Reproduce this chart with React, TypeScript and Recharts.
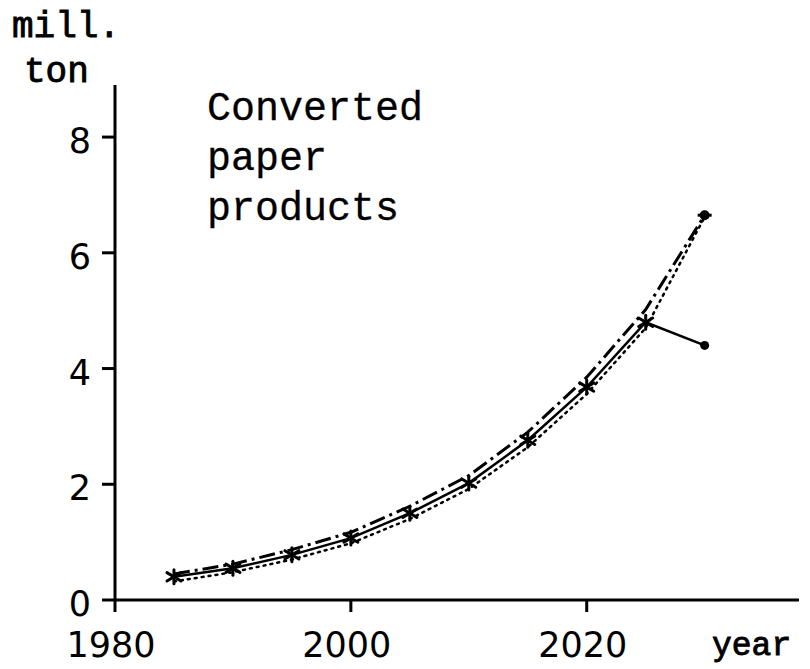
import React from 'react';
import { LineChart, Line, XAxis, YAxis } from 'recharts';

// ─── Data ─────────────────────────────────────────────────────────────────────

const years = [1985, 1990, 1995, 2000, 2005, 2010, 2015, 2020, 2025, 2030];
const solidSeries = [0.4, 0.55, 0.78, 1.07, 1.5, 2.02, 2.76, 3.68, 4.8, 4.4];
const dashDotSeries = [0.45, 0.62, 0.87, 1.17, 1.62, 2.15, 2.9, 3.85, 5.02, 6.65];
const dottedSeries = [0.32, 0.48, 0.7, 0.98, 1.4, 1.92, 2.64, 3.56, 4.7, 6.62];

const yTicks = [0, 2, 4, 6, 8];
const xTicks = [1980, 2000, 2020];

const rows = years.map((year, i) => ({
  year,
  solid: solidSeries[i],
  dashDot: dashDotSeries[i],
  dotted: dottedSeries[i],
}));

const INK = '#000';
const NUM_FONT = '"DejaVu Sans", sans-serif';
const TXT_FONT = '"Liberation Mono", "DejaVu Sans Mono", monospace';

// ─── Markers ──────────────────────────────────────────────────────────────────

function StarDot(props: any) {
  const { cx, cy, index } = props;
  if (cx == null || cy == null) return null;
  if (index === years.length - 1) {
    return <circle key={`s${index}`} cx={cx} cy={cy} r={4.5} fill={INK} />;
  }
  const r = 7;
  return (
    <g key={`s${index}`} stroke={INK} strokeWidth={3} strokeLinecap="round">
      <line x1={cx - r} y1={cy - r * 0.6} x2={cx + r} y2={cy + r * 0.6} />
      <line x1={cx - r} y1={cy + r * 0.6} x2={cx + r} y2={cy - r * 0.6} />
      <line x1={cx} y1={cy - r} x2={cx} y2={cy + r} />
    </g>
  );
}

function EndBlob(props: any) {
  const { cx, cy, index } = props;
  if (cx == null || cy == null || index !== years.length - 1) return null;
  return (
    <g key={`b${index}`}>
      <circle cx={cx} cy={cy} r={5} fill={INK} />
      <line x1={cx - 7} y1={cy} x2={cx + 7} y2={cy} stroke={INK} strokeWidth={3} />
    </g>
  );
}

// ─── Ticks ────────────────────────────────────────────────────────────────────

function YTick(props: any) {
  const { x, y, payload } = props;
  return (
    <text x={x - 9} y={y + 4} textAnchor="end" dominantBaseline="central"
      fontFamily={NUM_FONT} fontSize={35} fill={INK}>
      {payload.value}
    </text>
  );
}

function XTick(props: any) {
  const { x, payload } = props;
  return (
    <text x={x - 4} y={657} textAnchor="middle"
      fontFamily={NUM_FONT} fontSize={35} fill={INK}>
      {payload.value}
    </text>
  );
}

// ─── Component ────────────────────────────────────────────────────────────────

export default function App() {
  return (
    <div style={{ position: 'absolute', left: 0, top: 0, width: 810, height: 669, background: '#fff' }}>
      <LineChart width={810} height={669} data={rows}
        margin={{ top: 85, right: 11, bottom: 29, left: 55 }}>
        <XAxis
          dataKey="year"
          type="number"
          domain={[1980, 2038]}
          ticks={xTicks}
          allowDataOverflow
          height={40}
          tickSize={12}
          axisLine={{ stroke: INK, strokeWidth: 3 }}
          tickLine={{ stroke: INK, strokeWidth: 3 }}
          tick={<XTick />}
        />
        <YAxis
          type="number"
          domain={[0, 8.9]}
          ticks={yTicks}
          allowDataOverflow
          width={60}
          tickSize={13}
          axisLine={{ stroke: INK, strokeWidth: 3 }}
          tickLine={{ stroke: INK, strokeWidth: 3 }}
          tick={<YTick />}
        />

        {/* dotted scenario, slightly below */}
        <Line dataKey="dotted" stroke={INK} strokeWidth={2.5} strokeDasharray="2 5"
          strokeLinecap="round" dot={false} isAnimationActive={false} />

        {/* dash-dot scenario, slightly above */}
        <Line dataKey="dashDot" stroke={INK} strokeWidth={3} strokeDasharray="16 5 3 5"
          dot={<EndBlob />} isAnimationActive={false} />

        {/* solid scenario with star markers, bends down after 2025 */}
        <Line dataKey="solid" stroke={INK} strokeWidth={2.5}
          dot={<StarDot />} isAnimationActive={false} />
      </LineChart>

      <svg width={810} height={669} style={{ position: 'absolute', left: 0, top: 0, pointerEvents: 'none' }}>
        <g fontFamily={TXT_FONT} fill={INK} stroke={INK}>
          <text x={12} y={37} fontSize={36} strokeWidth={0.9}>mill.</text>
          <text x={24} y={82} fontSize={36} strokeWidth={0.9}>ton</text>
          <text x={712} y={655} fontSize={33} strokeWidth={0.9}>year</text>
          <text x={207} y={120} fontSize={40} strokeWidth={0.3}>Converted</text>
          <text x={207} y={170} fontSize={40} strokeWidth={0.3}>paper</text>
          <text x={207} y={220} fontSize={40} strokeWidth={0.3}>products</text>
        </g>
      </svg>
    </div>
  );
}
